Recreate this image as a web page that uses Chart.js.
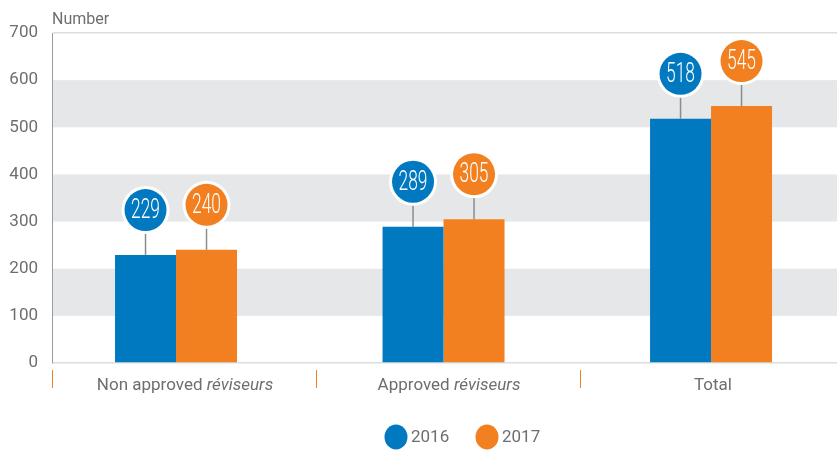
<!DOCTYPE html>
<html>
<head>
<meta charset="utf-8">
<script src="https://cdn.jsdelivr.net/npm/chart.js@4"></script>
<style>
  html, body { margin: 0; padding: 0; background: #fff; overflow: hidden; }
  #wrap { width: 844px; height: 450px; }
</style>
</head>
<body>
<div id="wrap"><canvas id="chart"></canvas></div>
<script>
// Data
const categories = ["Non approved réviseurs", "Approved réviseurs", "Total"];
const italicWord = "réviseurs";
const years = ["2016", "2017"];
const values2016 = [229, 289, 518];
const values2017 = [240, 305, 545];
const yTicks = [0, 100, 200, 300, 400, 500, 600, 700];
const bandRanges = [[100, 200], [300, 400], [500, 600]];
const colors = ["#0079c1", "#f28021"];

const FONT = "Roboto, 'Liberation Sans', sans-serif";
const GREY = "#6d6e71";

const toPoints = (arr) => arr.map((v, i) => ({ x: i, y: v }));

// Grey bands + custom labels, bubbles and legend
const decor = {
    id: "decor",
    beforeDatasetsDraw(chart) {
        const { ctx, chartArea, scales: { y } } = chart;
        ctx.save();
        ctx.fillStyle = "#e6e7e8";
        bandRanges.forEach(([lo, hi]) => {
            const top = y.getPixelForValue(hi);
            const bot = y.getPixelForValue(lo);
            ctx.fillRect(chartArea.left + 1, top, chartArea.right - chartArea.left, bot - top);
        });
        ctx.restore();
    },
    afterDatasetsDraw(chart) {
        const { ctx, chartArea } = chart;
        ctx.save();

        // axis title
        ctx.fillStyle = GREY;
        ctx.font = "16px " + FONT;
        ctx.textAlign = "left";
        ctx.textBaseline = "alphabetic";
        ctx.fillText("Number", chartArea.left, 24);

        // category separators (orange ticks)
        ctx.strokeStyle = "#f28021";
        ctx.lineWidth = 1;
        const bandW = (chartArea.right - chartArea.left) / categories.length;
        for (let i = 0; i < categories.length; i++) {
            const bx = Math.round(chartArea.left + i * bandW) + 0.5;
            ctx.beginPath();
            ctx.moveTo(bx, 370);
            ctx.lineTo(bx, 388);
            ctx.stroke();
        }

        // category labels with italic word
        categories.forEach((label, i) => {
            const cx = chartArea.left + (i + 0.5) * bandW + 1;
            const idx = label.indexOf(italicWord);
            const normal = idx >= 0 ? label.slice(0, idx) : label;
            const ital = idx >= 0 ? italicWord : "";
            ctx.font = "17px " + FONT;
            const w1 = ctx.measureText(normal).width;
            ctx.font = "italic 17px " + FONT;
            const w2 = ital ? ctx.measureText(ital).width : 0;
            const sx = cx - (w1 + w2) / 2;
            ctx.fillStyle = GREY;
            ctx.textAlign = "left";
            ctx.font = "17px " + FONT;
            ctx.fillText(normal, sx, 390);
            if (ital) {
                ctx.font = "italic 17px " + FONT;
                ctx.fillText(ital, sx + w1, 390);
            }
        });

        // value bubbles
        chart.data.datasets.forEach((ds, di) => {
            const meta = chart.getDatasetMeta(di);
            meta.data.forEach((bar, i) => {
                const bx = bar.x;
                const top = bar.y;
                const cy = top - 45;
                ctx.strokeStyle = "#8a8c8e";
                ctx.lineWidth = 1.5;
                ctx.beginPath();
                ctx.moveTo(bx, top);
                ctx.lineTo(bx, cy);
                ctx.stroke();
                ctx.fillStyle = "#fff";
                ctx.beginPath();
                ctx.arc(bx, cy, 24, 0, Math.PI * 2);
                ctx.fill();
                ctx.fillStyle = ds.backgroundColor;
                ctx.beginPath();
                ctx.arc(bx, cy, 21, 0, Math.PI * 2);
                ctx.fill();
                ctx.save();
                ctx.translate(bx, cy + 1);
                ctx.scale(0.62, 1);
                ctx.fillStyle = "#fff";
                ctx.font = "300 28px " + FONT;
                ctx.textAlign = "center";
                ctx.textBaseline = "middle";
                ctx.fillText(String(ds.data[i].y), 0, 0);
                ctx.restore();
            });
        });

        // legend
        const legendX = [396, 487];
        chart.data.datasets.forEach((ds, di) => {
            const lx = legendX[di];
            ctx.fillStyle = ds.backgroundColor;
            ctx.beginPath();
            ctx.ellipse(lx, 437, 11.5, 12.5, 0, 0, Math.PI * 2);
            ctx.fill();
            ctx.fillStyle = GREY;
            ctx.font = "17px " + FONT;
            ctx.textAlign = "left";
            ctx.textBaseline = "middle";
            ctx.fillText(ds.label, lx + 15, 438);
        });

        ctx.restore();
    }
};

new Chart(document.getElementById("chart"), {
    type: "bar",
    data: {
        datasets: [
            { label: years[0], data: toPoints(values2016), backgroundColor: colors[0] },
            { label: years[1], data: toPoints(values2017), backgroundColor: colors[1] }
        ]
    },
    options: {
        responsive: true,
        maintainAspectRatio: false,
        animation: false,
        layout: { padding: { top: 33, bottom: 87, left: 0, right: 0 } },
        datasets: { bar: { categoryPercentage: 0.456, barPercentage: 1.0 } },
        plugins: {
            legend: { display: false },
            tooltip: { enabled: false }
        },
        scales: {
            x: {
                type: "linear",
                offset: false,
                min: -0.4636,
                max: 2.497,
                afterBuildTicks: (s) => { s.ticks = categories.map((c, i) => ({ value: i })); },
                afterFit: (s) => { s.height = 0; },
                ticks: { display: false },
                grid: { display: false },
                border: { display: false }
            },
            y: {
                min: 0,
                max: 700,
                afterBuildTicks: (s) => { s.ticks = yTicks.map(v => ({ value: v })); },
                afterFit: (s) => { s.width = 52; },
                ticks: {
                    color: GREY,
                    font: { size: 17, family: FONT },
                    padding: 14
                },
                grid: {
                    drawTicks: false,
                    color: (c) => (c.tick && (c.tick.value === 0 || c.tick.value === 700)) ? "#dcdddf" : "rgba(0,0,0,0)",
                    lineWidth: 1.5
                },
                border: { display: true, color: "#9a9b9d", width: 1 }
            }
        }
    },
    plugins: [decor]
});
</script>
</body>
</html>
